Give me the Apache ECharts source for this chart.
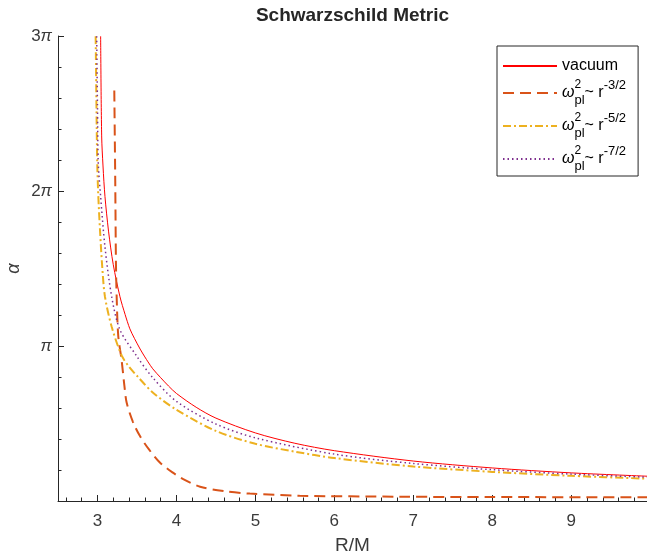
<!DOCTYPE html>
<html>
<head>
<meta charset="utf-8">
<script src="https://cdn.jsdelivr.net/npm/echarts@6/dist/echarts.min.js"></script>
<style>
html, body { margin: 0; padding: 0; background: #fff; }
#container { width: 647px; height: 556px; }
</style>
</head>
<body>
<div id="container"></div>
<script>
var dom = document.getElementById("container");
var myChart = echarts.init(dom);
var PI = Math.PI;

// R/M values and deflection angle alpha (rad)
var rVacuum = [3.04, 3.053, 3.07, 3.095, 3.14, 3.2, 3.285, 3.35, 3.41, 3.47, 3.54, 3.6, 3.64, 3.7, 3.8, 3.9, 4.0, 4.25, 4.5, 5, 5.5, 6, 7, 8, 9, 10];
var aVacuum = [9.42, 7.4, 6.79, 6.17, 5.47, 4.79, 4.14, 3.78, 3.49, 3.29, 3.08, 2.92, 2.82, 2.68, 2.5, 2.33, 2.18, 1.9, 1.68, 1.38, 1.17, 1.02, 0.81, 0.67, 0.57, 0.50];

var rH32 = [3.213, 3.225, 3.234, 3.243, 3.263, 3.306, 3.34, 3.37, 3.45, 3.54, 3.65, 3.79, 3.95, 4.08, 4.3, 4.6, 4.93, 5.56, 6.83, 8, 10];
var aH32 = [8.32, 6.5, 4.82, 4.14, 3.35, 2.85, 2.35, 1.99, 1.6, 1.31, 1.05, 0.78, 0.58, 0.45, 0.29, 0.2, 0.15, 0.107, 0.087, 0.08, 0.076];

var rH52 = [2.977, 2.99, 2.997, 3.01, 3.032, 3.06, 3.095, 3.18, 3.306, 3.4, 3.51, 3.7, 4.0, 4.5, 5, 5.5, 6, 7, 8, 9, 10];
var aH52 = [9.42, 7.6, 6.85, 6.2, 5.49, 4.75, 4.14, 3.53, 2.95, 2.72, 2.52, 2.2, 1.85, 1.42, 1.16, 1.0, 0.87, 0.70, 0.59, 0.51, 0.45];

var rH72 = [2.99, 3.0, 3.01, 3.04, 3.095, 3.18, 3.285, 3.5, 3.7, 4.0, 4.5, 5, 6, 7, 8, 9, 10];
var aH72 = [9.42, 8.0, 6.85, 6.17, 5.15, 4.14, 3.47, 2.93, 2.5, 2.02, 1.56, 1.28, 0.95, 0.76, 0.635, 0.545, 0.48];

var xMajor = [3, 4, 5, 6, 7, 8, 9];

var legendText = {
    'vacuum': '{v|vacuum}',
    'h32': '{w|ω}{s|2}{p|pl}{t|~ r}{e|-3/2}',
    'h52': '{w|ω}{s|2}{p|pl}{t|~ r}{e|-5/2}',
    'h72': '{w|ω}{s|2}{p|pl}{t|~ r}{e|-7/2}'
};

function pairs(xs, ys) {
    return xs.map(function (x, i) { return [x, ys[i]]; });
}

// minor ticks every 0.2 on x
var xMinor = [];
for (var k = 13; k <= 49; k++) {
    if (k % 5 !== 0) xMinor.push(k / 5);
}

var textColor = '#262626';
var labelColor = '#3a3a3a';
var font = 'Liberation Sans, Arial, Helvetica, sans-serif';

option = {
    animation: false,
    backgroundColor: '#fff',
    title: {
        text: 'Schwarzschild Metric',
        left: 352.5,
        textAlign: 'center',
        top: 6,
        padding: 0,
        textStyle: { fontSize: 19, fontWeight: 'bold', color: textColor, fontFamily: font }
    },
    grid: { left: 58, right: 0, top: 36, bottom: 55, containLabel: false, outerBoundsMode: 'none' },
    legend: {
        orient: 'vertical',
        left: 497,
        top: 46,
        padding: [12, 12, 3, 5],
        itemGap: 5,
        itemWidth: 54,
        itemHeight: 14,
        borderColor: textColor,
        borderWidth: 1,
        backgroundColor: '#fff',
        itemStyle: { opacity: 0 },
        data: ['vacuum', 'h32', 'h52', 'h72'],
        formatter: function (name) { return legendText[name]; },
        textStyle: {
            fontFamily: font,
            color: '#000',
            rich: {
                v: { fontSize: 16, lineHeight: 17, fontFamily: font, color: '#000' },
                w: { fontSize: 16, lineHeight: 28, verticalAlign: 'middle', fontStyle: 'italic', fontFamily: font, color: '#000' },
                s: { fontSize: 12, lineHeight: 16, verticalAlign: 'top', width: 0, fontFamily: font, color: '#000' },
                p: { fontSize: 13, lineHeight: 10, verticalAlign: 'bottom', fontFamily: font, color: '#000' },
                t: { fontSize: 16, lineHeight: 28, verticalAlign: 'middle', fontFamily: font, color: '#000' },
                e: { fontSize: 13, lineHeight: 12, verticalAlign: 'top', fontFamily: font, color: '#000' }
            }
        }
    },
    xAxis: [{
        type: 'value',
        min: 2.5,
        max: 9.96,
        name: 'R/M',
        nameLocation: 'middle',
        nameGap: 35,
        nameTextStyle: { fontSize: 19, color: labelColor, fontFamily: font },
        axisLine: { lineStyle: { color: textColor, width: 1 } },
        axisTick: { inside: true, length: 6, customValues: xMajor, lineStyle: { color: textColor } },
        axisLabel: { customValues: xMajor, fontSize: 17, color: labelColor, margin: 12, fontFamily: font },
        splitLine: { show: false }
    }, {
        type: 'value',
        min: 2.5,
        max: 9.96,
        position: 'bottom',
        axisLine: { show: false },
        axisTick: { inside: true, length: 3.5, customValues: xMinor, lineStyle: { color: textColor } },
        axisLabel: { show: false },
        splitLine: { show: false }
    }],
    yAxis: {
        type: 'value',
        min: 0,
        max: 3 * PI,
        interval: PI,
        name: 'α',
        nameLocation: 'middle',
        nameRotate: 90,
        nameGap: 35,
        nameMoveOverlap: false,
        nameTextStyle: { fontSize: 18, fontStyle: 'italic', color: labelColor, fontFamily: font },
        axisLine: { show: true, lineStyle: { color: textColor, width: 1 } },
        axisTick: { inside: true, length: 6, lineStyle: { color: textColor } },
        minorTick: { show: true, splitNumber: 5, length: 3.5, lineStyle: { color: textColor } },
        axisLabel: {
            fontSize: 17, color: labelColor, margin: 6, fontFamily: font,
            formatter: function (v) {
                var k = Math.round(v / PI);
                if (k === 0) return '';
                return (k === 1 ? '' : '{n|' + k + '}') + '{p|π}';
            },
            rich: {
                n: { fontSize: 17, color: labelColor, fontFamily: font },
                p: { fontSize: 17, color: labelColor, fontFamily: font, fontStyle: 'italic' }
            }
        },
        splitLine: { show: false },
        minorSplitLine: { show: false }
    },
    series: [{
        name: 'vacuum',
        type: 'line',
        symbol: 'none',
        smooth: 0.3,
        lineStyle: { color: '#FF0000', width: 1 },
        itemStyle: { color: '#FF0000' },
        data: pairs(rVacuum, aVacuum)
    }, {
        name: 'h32',
        type: 'line',
        symbol: 'none',
        smooth: 0.3,
        lineStyle: { color: '#D95319', width: 2, type: [11, 6] },
        itemStyle: { color: '#D95319' },
        data: pairs(rH32, aH32)
    }, {
        name: 'h52',
        type: 'line',
        symbol: 'none',
        smooth: 0.3,
        lineStyle: { color: '#EDB120', width: 2, type: [8, 3, 2, 3] },
        itemStyle: { color: '#EDB120' },
        data: pairs(rH52, aH52)
    }, {
        name: 'h72',
        type: 'line',
        symbol: 'none',
        smooth: 0.3,
        lineStyle: { color: '#7E2F8E', width: 1.5, type: [1.5, 3] },
        itemStyle: { color: '#7E2F8E' },
        data: pairs(rH72, aH72)
    }]
};

if (option && typeof option === "object") {
    myChart.setOption(option, true);
}
</script>
</body>
</html>
